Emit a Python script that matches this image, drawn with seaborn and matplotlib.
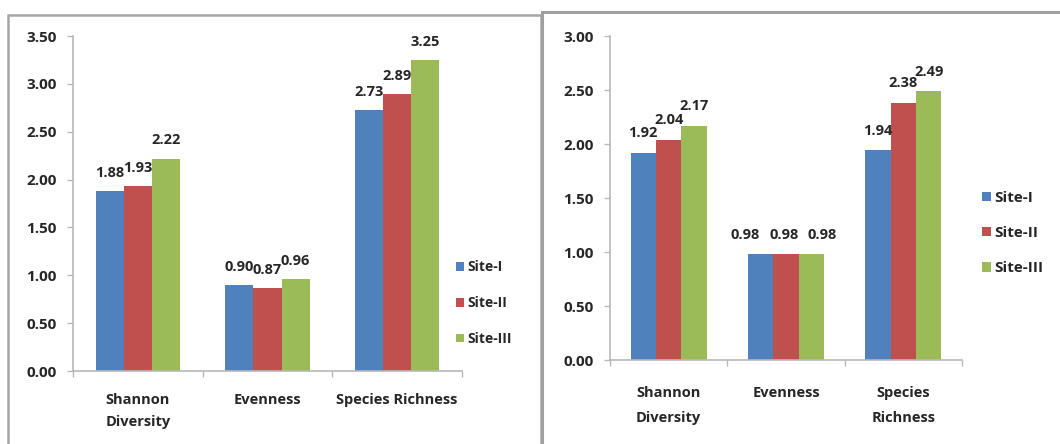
import matplotlib
matplotlib.use("Agg")
import matplotlib.pyplot as plt
from matplotlib.patches import Rectangle, Patch
import pandas as pd
import seaborn as sns

# Diversity indices for the three sampling sites (two survey panels)
indices_left = ["Shannon\nDiversity", "Evenness", "Species Richness"]
indices_right = ["Shannon\nDiversity", "Evenness", "Species\nRichness"]
sites = ["Site-I", "Site-II", "Site-III"]

left_site1 = [1.88, 0.90, 2.73]
left_site2 = [1.93, 0.87, 2.89]
left_site3 = [2.22, 0.96, 3.25]

right_site1 = [1.92, 0.98, 1.94]
right_site2 = [2.04, 0.98, 2.38]
right_site3 = [2.17, 0.98, 2.49]

left_yticks = [0.0, 0.5, 1.0, 1.5, 2.0, 2.5, 3.0, 3.5]
right_yticks = [0.0, 0.5, 1.0, 1.5, 2.0, 2.5, 3.0]

colors = ["#4F81BD", "#C0504D", "#9BBB59"]
text_color = "#262626"
axis_color = "#B8B8B8"

sns.set_theme(style="white")
plt.rcParams["font.family"] = ["Open Sans", "DejaVu Sans"]


def long_table(cats, series):
    rows = []
    for site, vals in zip(sites, series):
        for c, v in zip(cats, vals):
            rows.append({"index": c, "site": site, "value": v})
    return pd.DataFrame(rows)


W, H = 1060, 444
fig = plt.figure(figsize=(W / 100, H / 100), dpi=100)
fig.patch.set_facecolor("white")


def px_axes(x0, x1, ytop, ybot):
    return fig.add_axes([x0 / W, (H - ybot) / H, (x1 - x0) / W, (ybot - ytop) / H])


def draw_panel(ax, cats, series, yticks, label_pad_pt, xlabel_pad, spacing,
               label_shift=None):
    df = long_table(cats, series)
    sns.barplot(data=df, x="index", y="value", hue="site", order=cats,
                hue_order=sites, palette=colors, width=0.65, saturation=1,
                edgecolor="none", linewidth=0, legend=False, ax=ax)
    for k, cont in enumerate(ax.containers):
        anns = ax.bar_label(cont, fmt="%.2f", padding=label_pad_pt,
                            fontsize=10.5, fontweight="bold", color=text_color)
        # nudge crowded value labels sideways (offset in points)
        if label_shift:
            for cat_i, shifts in label_shift.items():
                anns[cat_i].xyann = (shifts[k], label_pad_pt)
    ax.set_ylim(yticks[0], yticks[-1])
    ax.set_xlim(-0.5, len(cats) - 0.5)
    ax.set_yticks(yticks)
    ax.set_yticklabels([f"{t:.2f}" for t in yticks], fontsize=11,
                       fontweight="bold", color=text_color)
    ax.set_xticks(range(len(cats)))
    ax.set_xticklabels(cats, fontsize=10.5, fontweight="bold", color=text_color,
                       linespacing=spacing)
    ax.set_xticks([i - 0.5 for i in range(len(cats) + 1)], minor=True)
    ax.tick_params(axis="x", which="major", length=0, pad=xlabel_pad)
    ax.tick_params(axis="x", which="minor", length=4, width=1,
                   color=axis_color, direction="out", bottom=True)
    ax.tick_params(axis="y", length=4, width=1, color=axis_color,
                   direction="out", left=True, pad=8)
    ax.set_xlabel("")
    ax.set_ylabel("")
    for side in ("top", "right"):
        ax.spines[side].set_visible(False)
    for side in ("left", "bottom"):
        ax.spines[side].set_color(axis_color)
        ax.spines[side].set_linewidth(1.2)
    ax.set_facecolor("none")


# Panel frames (drawn beneath the axes)
fig.patches.append(Rectangle((8 / W, -0.05), (541 - 8) / W, (H - 15) / H + 0.05,
                             transform=fig.transFigure, fill=False,
                             edgecolor="#A6A6A6", linewidth=1.8, zorder=-1))
fig.patches.append(Rectangle((542 / W, -0.05), 0.5, (H - 12) / H + 0.05,
                             transform=fig.transFigure, fill=True,
                             facecolor="white", edgecolor="#A0A0A0",
                             linewidth=2.2, zorder=-1))

ax_left = px_axes(73, 462, 36, 371)
draw_panel(ax_left, indices_left,
           [left_site1, left_site2, left_site3], left_yticks, 8, 16, 1.75)

ax_right = px_axes(610, 962, 36, 360)
draw_panel(ax_right, indices_right,
           [right_site1, right_site2, right_site3], right_yticks, 9, 19, 2.0,
           label_shift={1: (-11, -1.5, 8)})

handles = [Patch(facecolor=c, edgecolor="none", label=s)
           for c, s in zip(colors, sites)]
fig.legend(handles=handles, bbox_to_anchor=(443 / W, 1 - 303 / H),
           frameon=False, loc="center left", handlelength=0.6,
           handleheight=0.6, handletextpad=0.25, labelspacing=1.58,
           prop={"size": 10, "weight": "bold"}, labelcolor=text_color)
fig.legend(handles=handles, bbox_to_anchor=(968 / W, 1 - 233 / H),
           frameon=False, loc="center left", handlelength=0.6,
           handleheight=0.6, handletextpad=0.25, labelspacing=1.38,
           prop={"size": 11, "weight": "bold"}, labelcolor=text_color)

fig.savefig("out.png", dpi=100, facecolor="white")
